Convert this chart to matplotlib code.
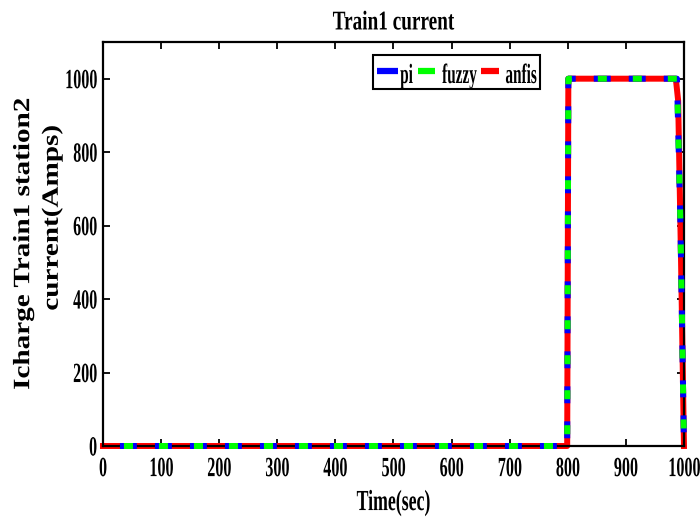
import matplotlib
matplotlib.use('Agg')
import matplotlib.pyplot as plt
import numpy as np
from matplotlib.patheffects import AbstractPathEffect
from matplotlib.transforms import Affine2D
from matplotlib.lines import Line2D
from matplotlib.patches import Rectangle

# Datos
t_pi = np.array([0, 799, 801, 988, 994, 1000])
i_pi = np.array([0, 0, 1000, 1000, 600, 0])

t_fuzzy = np.array([0, 799, 801, 988, 994, 1000])
i_fuzzy = np.array([0, 0, 1000, 1000, 600, 0])

t_anfis = np.array([0, 799, 801, 986, 990, 995, 1000])
i_anfis = np.array([0, 0, 1000, 1000, 940, 500, 0])

x_ticks = np.arange(0, 1001, 100)
y_ticks = np.arange(0, 1001, 200)

series_names = ['pi', 'fuzzy', 'anfis']
series_colors = ['#0000ff', '#00ff00', '#ff0000']


# texto estrecho (la figura original esta comprimida en horizontal)
class Squeeze(AbstractPathEffect):
    def __init__(self, sx=0.6, anchor='center'):
        super().__init__()
        self.sx = sx
        self.anchor = anchor

    def draw_path(self, renderer, gc, tpath, affine, rgbFace=None):
        ext = tpath.get_extents(affine)
        if self.anchor == 'right':
            ax_ = ext.x1
        elif self.anchor == 'left':
            ax_ = ext.x0
        else:
            ax_ = 0.5 * (ext.x0 + ext.x1)
        tr = affine + Affine2D().translate(-ax_, 0).scale(self.sx, 1).translate(ax_, 0)
        renderer.draw_path(gc, tpath, tr, rgbFace)


plt.rcParams['font.family'] = ['Liberation Serif', 'DejaVu Serif']
plt.rcParams['font.weight'] = 'bold'
plt.rcParams['lines.scale_dashes'] = False

W, H = 700, 518
fig = plt.figure(figsize=(7, 5.18), dpi=100)
ax = fig.add_axes([0.1471, 0.139, 0.83, 0.78])

lw = 4.3
ax.plot(t_anfis, i_anfis, color='#ff0000', lw=lw, zorder=2, clip_on=False)
ax.plot(t_pi, i_pi, color='#0000ff', lw=lw, ls=(13.0, (12.2, 13.0)), zorder=3, clip_on=False)
ax.plot(t_fuzzy, i_fuzzy, color='#00ff00', lw=lw, ls=(10.1, (6.5, 18.7)), zorder=4, clip_on=False)

ax.set_xlim(0, 1000)
ax.set_ylim(0, 1100)
ax.set_xticks(x_ticks)
ax.set_yticks(y_ticks)
ax.tick_params(direction='in', top=True, right=True, labelsize=20, width=1.3, length=5)
ax.tick_params(axis='x', pad=8)
ax.tick_params(axis='y', pad=4)
fig.canvas.draw()
for lab in ax.get_xticklabels():
    lab.set_fontweight('bold')
    lab.set_path_effects([Squeeze(0.58, 'center')])
for lab in ax.get_yticklabels():
    lab.set_fontweight('bold')
    lab.set_path_effects([Squeeze(0.58, 'right')])
for s in ax.spines.values():
    s.set_linewidth(1.6)

t = ax.set_title('Train1 current', fontsize=19.5, fontweight='bold', pad=9)
t.set_path_effects([Squeeze(0.71)])
xl = ax.set_xlabel('Time(sec)', fontsize=21, fontweight='bold', labelpad=5)
xl.set_path_effects([Squeeze(0.61)])

# etiqueta del eje y en dos lineas
yl1 = fig.text(23 / W, 1 - 244 / H, 'Icharge Train1 station2', rotation=90, fontsize=21,
               fontweight='bold', ha='center', va='center')
yl2 = fig.text(52 / W, 1 - 218 / H, 'current(Amps)', rotation=90, fontsize=21,
               fontweight='bold', ha='center', va='center')
yl1.set_path_effects([Squeeze(0.8)])
yl2.set_path_effects([Squeeze(0.8)])

# leyenda (dibujada a mano para poder usar texto estrecho)
box_x0, box_x1, box_y0, box_y1 = 373, 540, 55, 89
fig.add_artist(Rectangle((box_x0 / W, 1 - box_y1 / H), (box_x1 - box_x0) / W,
                         (box_y1 - box_y0) / H, transform=fig.transFigure,
                         facecolor='white', edgecolor='black', lw=1.5, zorder=5))
handle_x = [(377, 398), (418, 435), (481, 499)]
text_x = [400, 442, 505]
for (hx0, hx1), tx, name, col in zip(handle_x, text_x, series_names, series_colors):
    fig.add_artist(Line2D([hx0 / W, hx1 / W], [1 - 71 / H, 1 - 71 / H], color=col,
                          lw=4.5, transform=fig.transFigure, zorder=6,
                          solid_capstyle='butt'))
    tt = fig.text(tx / W, 1 - 83 / H, name, fontsize=20, fontweight='bold',
                  ha='left', va='baseline', zorder=6)
    tt.set_path_effects([Squeeze(0.55, 'left')])

plt.savefig('out.png', dpi=100)
